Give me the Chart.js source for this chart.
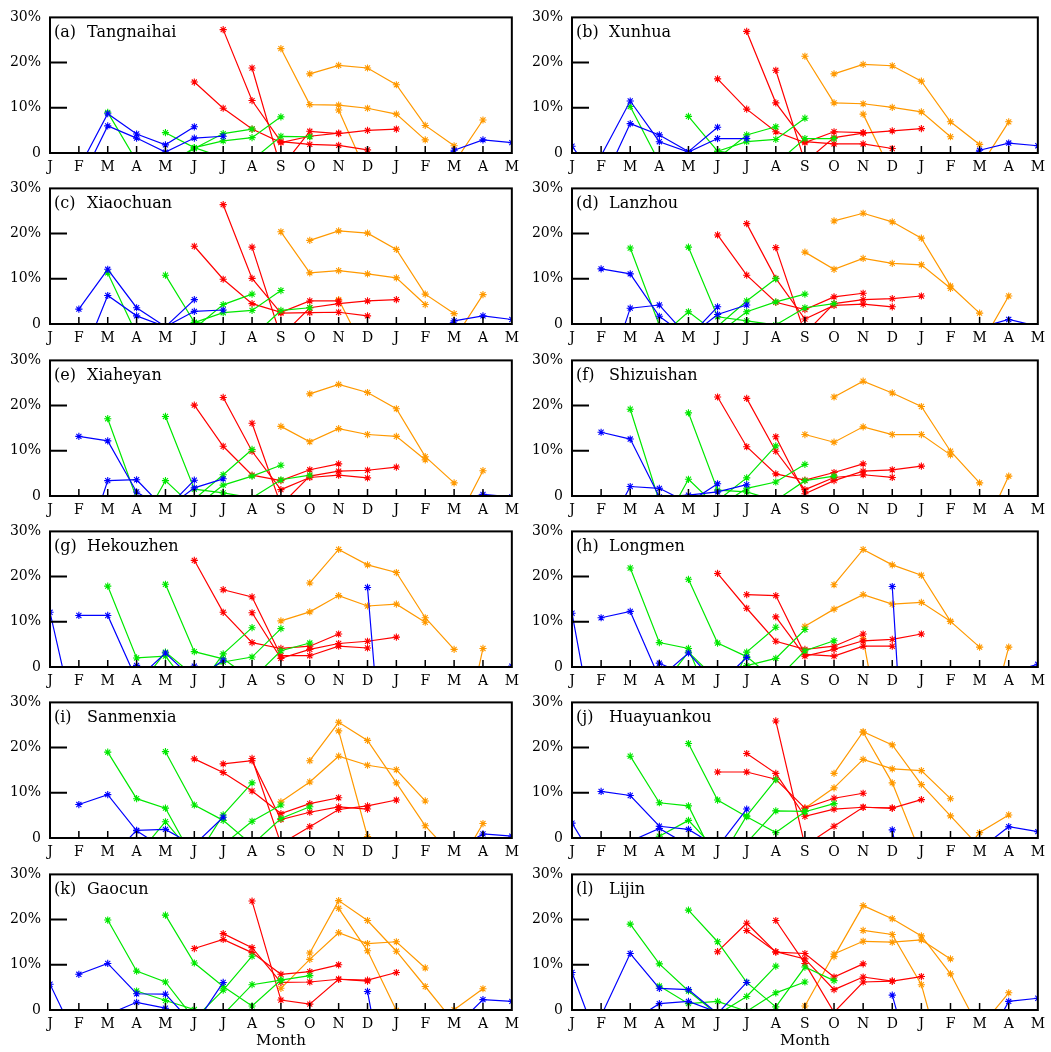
<!DOCTYPE html>
<html>
<head>
<meta charset="utf-8">
<script src="https://cdn.jsdelivr.net/npm/chart.js@4.4.1/dist/chart.umd.min.js"></script>
<style>
  body { margin: 0; background: #fff; width: 1051px; height: 1052px; position: relative; overflow: hidden; }
  canvas { position: absolute; }
</style>
</head>
<body>
<script>
// x axis: Jan .. May of the following year
const months = ['J', 'F', 'M', 'A', 'M', 'J', 'J', 'A', 'S', 'O', 'N', 'D', 'J', 'F', 'M', 'A', 'M'];
const yTicks = [0, 10, 20, 30];
// every line holds 6 monthly values, starting at these months (D, J, F | M, A, M | J, J, A | S, O, N)
const startMonth = [11, 0, 1, 2, 3, 4, 5, 6, 7, 8, 9, 10];
const panelTags = ['(a)', '(b)', '(c)', '(d)', '(e)', '(f)', '(g)', '(h)', '(i)', '(j)', '(k)', '(l)'];
const stationNames = ['Tangnaihai', 'Xunhua', 'Xiaochuan', 'Lanzhou', 'Xiaheyan', 'Shizuishan',
  'Hekouzhen', 'Longmen', 'Sanmenxia', 'Huayuankou', 'Gaocun', 'Lijin'];

// values in %, negative = below the axis (clipped)
const tangnaihai = [
  [-5, -5, -3, 0.6, 2.9, 2.3],
  [-4, -3.4, 8.7, 4.2, 1.8, 5.8],
  [-7, 6.0, 3.3, 0.2, 3.3, 3.7],
  [9.0, -1.8, -3, 1.0, 4.3, 5.3],
  [-3, -3, 1.2, 2.7, 3.4, 8.0],
  [4.5, 1.2, -1, -1.6, 3.7, 3.6],
  [15.7, 9.9, 5.3, 2.3, 3.7, 4.4],
  [27.3, 11.6, 2.5, 1.9, 1.7, 0.7],
  [18.8, -3.3, 4.8, 4.3, 5.0, 5.3],
  [23.1, 10.7, 10.6, 9.9, 8.6, 2.9],
  [17.5, 19.4, 18.8, 15.1, 6.1, 1.6],
  [9.5, -4.9, -8, -8, -2.2, 7.3]
];
const xunhua = [
  [-5, -5, -3, 0.6, 2.2, 1.6],
  [1.5, -7.3, 6.5, 4.0, 0.3, 5.7],
  [-0.6, 11.5, 2.5, 0.2, 3.2, 3.2],
  [10.3, -2.1, -4, -1.2, 4.0, 5.8],
  [-3, -3, 0.4, 2.5, 3.0, 7.7],
  [8.1, 0.4, -0.5, -2.4, 3.2, 3.2],
  [16.4, 9.7, 4.7, 2.3, 4.7, 4.5],
  [26.9, 11.1, 2.5, 2.0, 2.0, 1.0],
  [18.3, -2, 3.4, 4.4, 4.9, 5.4],
  [21.4, 11.1, 10.9, 10.1, 9.1, 3.6],
  [17.5, 19.6, 19.3, 15.9, 6.9, 1.9],
  [8.6, -4.6, -8, -8, -3.2, 6.9]
];
const xiaochuan = [
  [-5, -5, -3, 0.7, 1.8, 1.0],
  [-15, -9.5, 6.3, 1.8, -0.6, 5.4],
  [3.3, 12.1, 3.6, -0.6, 2.8, 3.1],
  [11.3, -2.3, -3, -1, 4.3, 6.6],
  [-3, -3, 0.3, 2.5, 3.0, 7.4],
  [10.8, 0.4, -0.5, -2.9, 3.0, 3.6],
  [17.2, 9.9, 4.5, 2.6, 5.1, 5.1],
  [26.4, 10.1, 2.4, 2.5, 2.6, 1.8],
  [17.0, -2.8, 3.6, 4.5, 5.1, 5.4],
  [20.4, 11.3, 11.8, 11.1, 10.2, 4.3],
  [18.5, 20.6, 20.1, 16.5, 6.6, 2.3],
  [5.4, -7.2, -8, -8, -3.4, 6.5]
];
const lanzhou = [
  [-5, -5, -5, -0.8, 1.0, -0.5],
  [-20, -16, 3.5, 4.2, -3, 3.8],
  [12.2, 11.1, 1.7, -3, 2.1, 4.2],
  [16.8, -0.3, -3, -0.5, 5.1, 10.0],
  [-3, 2.7, -2.2, 2.7, 4.9, 6.6],
  [17.0, 1.6, 0.7, -0.2, 3.6, 4.5],
  [19.7, 10.8, 4.8, 3.2, 6.0, 6.8],
  [22.2, 10.1, 1.1, 4.1, 4.4, 3.8],
  [16.9, -2.1, 4.5, 5.4, 5.6, 6.2],
  [15.9, 12.1, 14.5, 13.4, 13.1, 7.9],
  [22.8, 24.5, 22.6, 19.0, 8.4, 2.4],
  [-3, -5, -5, -5, -5.1, 6.2]
];
const xiaheyan = [
  [-5, -5, -5, -1, 0.35, -0.2],
  [-20, -16, 3.4, 3.6, -3, 3.5],
  [13.2, 12.2, 0.9, -3, 1.8, 3.8],
  [17.1, -0.5, -3, -0.7, 4.7, 10.3],
  [-8, 3.4, -2.6, 2.4, 4.4, 6.8],
  [17.6, 1.5, 0.7, -0.4, 3.6, 4.6],
  [20.1, 11.0, 4.6, 3.4, 5.8, 7.1],
  [21.8, 9.9, 1.4, 4.1, 4.6, 4.0],
  [16.1, -2.0, 4.4, 5.5, 5.7, 6.4],
  [15.4, 12.0, 14.9, 13.6, 13.2, 8.0],
  [22.6, 24.7, 22.9, 19.3, 8.7, 2.9],
  [-3, -5, -5, -5, -6.8, 5.6]
];
const shizuishan = [
  [-5, -6, -6, -5, -3, -2],
  [-20, -10, 2.1, 1.7, -1.5, 2.7],
  [14.1, 12.6, -0.2, 0.2, 0.9, 2.5],
  [19.2, -1.2, -3, -1, 4.0, 11.1],
  [-8, 3.7, -2.5, 1.7, 3.1, 7.0],
  [18.4, 1.3, 0.9, -1.0, 3.4, 4.4],
  [21.9, 10.9, 4.9, 3.5, 5.2, 7.1],
  [21.6, 9.9, 1.4, 4.1, 4.7, 4.1],
  [13.1, 0.5, 3.4, 5.5, 5.8, 6.6],
  [13.6, 11.9, 15.3, 13.6, 13.6, 9.1],
  [21.9, 25.4, 22.8, 19.8, 9.9, 2.9],
  [-3, -5, -5, -5, -9.4, 4.4]
];
const hekouzhen = [
  [17.6, -59, -30, -10, -3, 0.2],
  [12.1, -16, -8, 0.35, -2, 0.2],
  [11.4, 11.4, -2.85, 3.1, -3, 1.5],
  [17.9, 2.0, 2.4, -5.9, 2.9, 8.7],
  [-5, 3.3, -2, 1.1, 2.2, 8.5],
  [18.3, 3.4, 1.8, -2.7, 3.6, 5.3],
  [23.6, 12.1, 5.4, 4.1, 4.6, 7.3],
  [17.1, 15.5, 2.5, 2.5, 4.6, 4.2],
  [12.0, 1.9, 3.9, 5.2, 5.7, 6.6],
  [10.2, 12.2, 15.8, 13.5, 13.9, 9.9],
  [18.6, 26.0, 22.6, 20.9, 10.9, 3.9],
  [-3, -5, -5, -5, -25, 4.1]
];
const longmen = [
  [17.8, -87, -40, -10, -1.2, 0.6],
  [11.9, -23, -10, 0.85, -2, -3],
  [10.9, 12.3, -2.5, 3.1, -4, 2.1],
  [21.9, 5.4, 4.1, -11.7, 3.3, 8.8],
  [-5, 3.3, -3, 0.3, 1.9, 8.3],
  [19.4, 5.3, 2.3, -3, 3.6, 5.8],
  [20.7, 13.0, 5.7, 3.9, 4.6, 7.3],
  [16.0, 15.8, 2.8, 2.4, 4.6, 4.6],
  [11.1, 2.4, 3.9, 5.8, 6.1, 7.3],
  [9.0, 12.8, 16.0, 13.9, 14.3, 10.1],
  [18.2, 26.0, 22.6, 20.3, 10.1, 4.4],
  [6.2, -28, -20, -20, -20, 4.4]
];
const sanmenxia = [
  [-5, -5, -5, -3, 0.9, 0.4],
  [-10, -10, -5, 1.7, 1.9, -1.7],
  [7.4, 9.6, 1.6, -2.5, -1.5, 4.6],
  [19.0, 8.7, 6.6, -5, 5.1, 12.2],
  [-4, 3.6, -4, -1.5, 3.7, 7.3],
  [19.1, 7.3, 3.9, -1.5, 4.3, 6.9],
  [17.5, 14.5, 10.4, 5.4, 7.6, 8.9],
  [16.4, 17.1, 4.1, 5.7, 6.9, 6.4],
  [17.6, -1.3, 2.5, 6.3, 7.1, 8.4],
  [8.0, 12.4, 18.1, 16.1, 15.1, 8.2],
  [17.1, 25.6, 21.6, 12.2, 2.7, -4.2],
  [23.7, 0.3, -10, -10, -7.8, 3.2]
];
const huayuankou = [
  [1.8, -30, -20, -2.5, 2.5, 1.4],
  [3.3, -7.3, -0.74, 2.1, -1.6, -5],
  [10.3, 9.4, 2.6, 1.9, -2, 6.4],
  [18.1, 7.8, 7.1, -5.8, 4.9, 12.9],
  [0.4, 3.9, -3, -1.06, 6.0, 5.9],
  [20.9, 8.4, 4.7, 1.2, 5.8, 7.6],
  [14.6, 14.6, 13.0, 6.6, 8.8, 9.9],
  [18.7, 14.3, 4.8, 6.4, 6.8, 6.6],
  [25.9, -1.7, 2.6, 6.8, 6.6, 8.5],
  [6.6, 11.1, 17.4, 15.3, 14.9, 8.7],
  [14.3, 23.5, 20.6, 11.8, 4.9, -2.0],
  [23.4, 12.2, -3.9, -6.8, 1.2, 5.1]
];
const gaocun = [
  [4.1, -30, -20, -4, 2.3, 1.9],
  [5.7, -7.6, -1.0, 1.7, 0.4, -3],
  [7.9, 10.3, 3.6, 3.5, -3.4, 6.1],
  [19.9, 8.6, 6.2, -2, 4.4, 11.9],
  [4.2, 2.1, 0.1, -1, 5.6, 6.6],
  [21.0, 10.4, 5.2, 0.9, 6.6, 7.6],
  [13.6, 15.6, 12.7, 7.9, 8.5, 10.0],
  [16.9, 13.8, 6.1, 6.2, 6.8, 6.4],
  [24.1, 2.2, 1.3, 6.8, 6.6, 8.3],
  [4.8, 11.2, 17.1, 14.7, 15.1, 9.3],
  [12.6, 24.2, 19.8, 13.0, 5.2, -2.7],
  [22.5, 13.1, -0.1, -5, 0.05, 4.7]
];
const lijin = [
  [3.3, -20, -20, -10, 1.9, 2.6],
  [8.3, -9, -2.7, 1.4, 1.9, -0.5],
  [-1.3, 12.5, 4.8, 4.5, -0.8, 6.1],
  [19.0, 10.2, 4.2, -1, 3.0, 9.7],
  [5.3, 1.4, 1.9, -0.3, 3.8, 6.2],
  [22.1, 15.1, 6.1, 0.7, 9.5, 6.5],
  [12.9, 19.2, 12.8, 12.5, 7.3, 10.2],
  [17.6, 12.9, 11.3, 4.5, 7.3, 6.4],
  [19.8, 10.3, -0.5, 6.2, 6.4, 7.4],
  [0.9, 12.4, 15.2, 15.0, 15.5, 11.3],
  [11.8, 23.1, 20.2, 16.4, 8.0, -4.3],
  [17.6, 16.7, 5.6, -17.7, -4, 3.8]
];
const stationData = [tangnaihai, xunhua, xiaochuan, lanzhou, xiaheyan, shizuishan,
  hekouzhen, longmen, sanmenxia, huayuankou, gaocun, lijin];

const groupColors = ['#0000ff', '#00e800', '#ff0000', '#ff9900'];
const FONT = '"DejaVu Serif", "Liberation Serif", serif';

// frame, inward tick marks and panel label
const framePlugin = {
  id: 'frame',
  afterDatasetsDraw(chart, args, opts) {
    const { ctx, chartArea: a, scales: { x, y } } = chart;
    ctx.save();
    ctx.strokeStyle = '#000';
    ctx.lineWidth = 1.5;
    ctx.beginPath();
    for (let m = 1; m < months.length - 1; m++) {
      const px = x.getPixelForValue(m);
      ctx.moveTo(px, a.bottom);
      ctx.lineTo(px, a.bottom - 7);
    }
    ctx.stroke();
    ctx.lineWidth = 2;
    ctx.beginPath();
    yTicks.slice(1, -1).forEach(v => {
      const py = y.getPixelForValue(v);
      ctx.moveTo(a.left, py);
      ctx.lineTo(a.left + 17, py);
    });
    ctx.stroke();
    ctx.strokeRect(a.left, a.top, a.right - a.left, a.bottom - a.top);
    ctx.fillStyle = '#000';
    ctx.font = '16px ' + FONT;
    ctx.textBaseline = 'alphabetic';
    ctx.fillText(opts.tag, a.left + 4, a.top + 20);
    ctx.fillText(opts.name, a.left + 37, a.top + 20);
    ctx.restore();
  }
};

stationData.forEach((lines, p) => {
  const col = p % 2, row = Math.floor(p / 2);
  const last = row === 5;
  const canvas = document.createElement('canvas');
  const w = col === 0 ? 525 : 526;
  // upper rows reach a few px into the next row so the month letters fit
  const h = last ? 193 : 177;
  canvas.width = w;
  canvas.height = h;
  canvas.style.left = (col === 0 ? 0 : 525) + 'px';
  canvas.style.top = Math.round(row * 171.3) + 'px';
  canvas.style.width = w + 'px';
  canvas.style.height = h + 'px';
  canvas.style.zIndex = String(10 - row);
  document.body.appendChild(canvas);

  const datasets = lines.map((vals, i) => {
    const c = groupColors[Math.floor(i / 3)];
    return {
      data: vals.map((v, k) => ({ x: startMonth[i] + k, y: v })),
      borderColor: c,
      backgroundColor: c,
      pointBorderColor: c,
      borderWidth: 1.2,
      pointStyle: 'star',
      pointRadius: 3.6,
      pointBorderWidth: 1.1,
      tension: 0
    };
  });

  new Chart(canvas, {
    type: 'line',
    data: { datasets },
    plugins: [framePlugin],
    options: {
      responsive: false,
      animation: false,
      devicePixelRatio: 1,
      layout: { padding: { left: 0, top: 13, right: col === 0 ? 8 : 13, bottom: 0 } },
      plugins: {
        legend: { display: false },
        tooltip: { enabled: false },
        frame: { tag: panelTags[p], name: stationNames[p] }
      },
      scales: {
        x: {
          type: 'linear',
          min: 0,
          max: months.length - 1,
          // axis box tall enough that the letters (J descender) are not clipped
          afterFit: s => { s.height = last ? 40 : 24; },
          grid: { display: false, drawTicks: false },
          border: { display: false },
          ticks: {
            stepSize: 1,
            autoSkip: false,
            maxRotation: 0,
            padding: 6,
            color: '#000',
            font: { family: FONT, size: 14 },
            callback: v => months[v]
          },
          title: {
            display: last,
            text: 'Month',
            color: '#000',
            padding: 0,
            font: { family: FONT, size: 15 }
          }
        },
        y: {
          min: 0,
          max: 30,
          afterFit: s => { s.width = col === 0 ? 50 : 47; },
          grid: { display: false, drawTicks: false },
          border: { display: false },
          ticks: {
            stepSize: 10,
            padding: 9,
            color: '#000',
            font: { family: FONT, size: 14 },
            callback: v => (v === 0 ? '0' : v + '%')
          }
        }
      }
    }
  });
});
</script>
</body>
</html>
